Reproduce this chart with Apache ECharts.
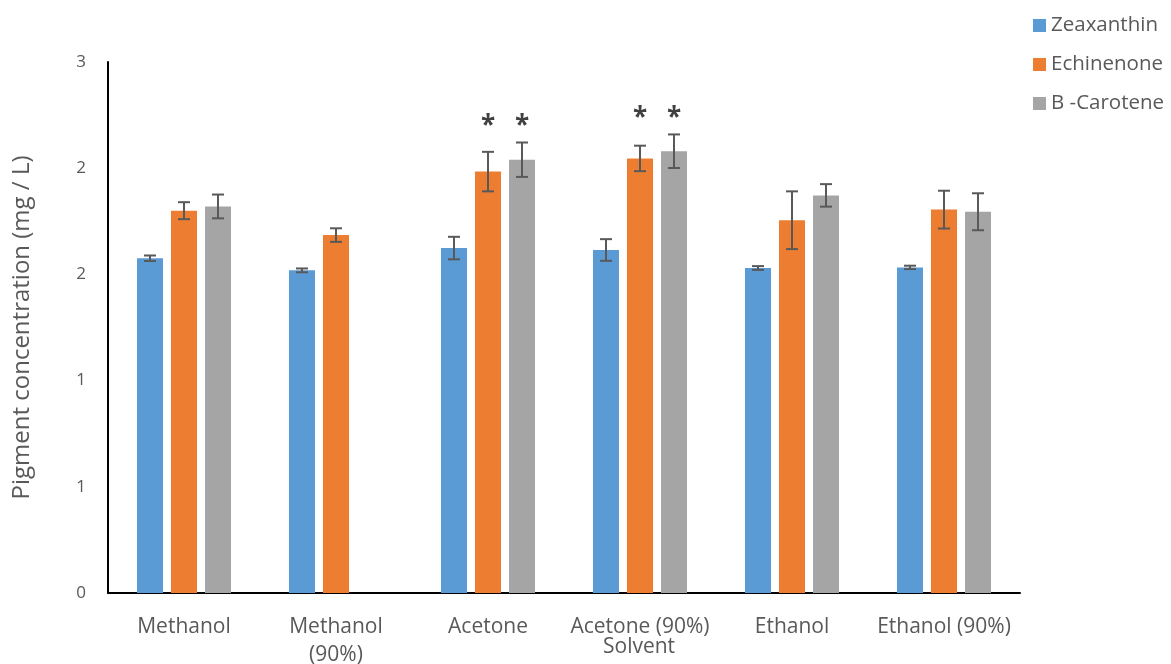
<!DOCTYPE html>
<html>
<head>
<meta charset="utf-8">
<script src="https://cdn.jsdelivr.net/npm/echarts@6/dist/echarts.min.js"></script>
<style>
  html, body { margin: 0; padding: 0; background: #fff; }
  #chart { width: 1171px; height: 664px; }
</style>
</head>
<body>
<div id="chart"></div>
<script>
// Solvents tested
const solvents = ['Methanol', 'Methanol\n(90%)', 'Acetone', 'Acetone (90%)', 'Ethanol', 'Ethanol (90%)'];

// Mean pigment concentration (mg / L)
const zeaxanthin = [1.576, 1.519, 1.624, 1.615, 1.530, 1.533];
const echinenone = [1.800, 1.685, 1.984, 2.046, 1.755, 1.805];
const bCarotene  = [1.820, null,  2.040, 2.080, 1.872, 1.795];

// Standard deviations
const zeaxanthinErr = [0.013, 0.009, 0.053, 0.051, 0.009, 0.008];
const echinenoneErr = [0.040, 0.032, 0.093, 0.060, 0.136, 0.089];
const bCaroteneErr  = [0.056, null,  0.081, 0.079, 0.053, 0.087];

// Significant differences (*)
const echinenoneSig = [false, false, true, true, false, false];
const bCaroteneSig  = [false, false, true, true, false, false];

// Y axis ticks
const yMin = 0, yMax = 2.5, yStep = 0.5;

const BAR_W = 26;
const BAR_GAP = 8;
const TEXT = '#595959';
const FONT = '"Open Sans", "DejaVu Sans", sans-serif';

const seriesDefs = [
  { name: 'Zeaxanthin', values: zeaxanthin, errors: zeaxanthinErr, sig: null, color: '#5B9BD5' },
  { name: 'Echinenone', values: echinenone, errors: echinenoneErr, sig: echinenoneSig, color: '#ED7D31' },
  { name: 'B -Carotene', values: bCarotene, errors: bCaroteneErr, sig: bCaroteneSig, color: '#A5A5A5' }
];

function slotOffset(k) {
  return (k - (seriesDefs.length - 1) / 2) * (BAR_W + BAR_GAP);
}

// Highest error-bar cap per solvent, used to place the significance marks
const groupTop = solvents.map((_, i) => {
  let m = 0;
  seriesDefs.forEach(s => {
    if (s.values[i] != null) m = Math.max(m, s.values[i] + (s.errors[i] || 0));
  });
  return m;
});

const series = [];

seriesDefs.forEach((s, k) => {
  series.push({
    name: s.name,
    type: 'bar',
    data: s.values,
    barWidth: BAR_W,
    barGap: (BAR_GAP / BAR_W * 100) + '%',
    itemStyle: { color: s.color },
    emphasis: { disabled: true },
    z: 2
  });
});

seriesDefs.forEach((s, k) => {
  series.push({
    type: 'custom',
    silent: true,
    z: 5,
    data: s.values.map((v, i) => [i, v, s.errors[i]]),
    encode: { x: 0, y: 1 },
    renderItem: function (params, api) {
      const i = api.value(0);
      const v = api.value(1);
      const e = api.value(2);
      if (v == null || isNaN(v) || e == null || isNaN(e)) return null;
      const dx = slotOffset(k);
      const top = api.coord([i, v + e]);
      const bot = api.coord([i, v - e]);
      const x = top[0] + dx;
      const cap = 6;
      const style = { stroke: '#595959', lineWidth: 2 };
      return {
        type: 'group',
        children: [
          { type: 'line', shape: { x1: x, y1: top[1], x2: x, y2: bot[1] }, style: style },
          { type: 'line', shape: { x1: x - cap, y1: top[1], x2: x + cap, y2: top[1] }, style: style },
          { type: 'line', shape: { x1: x - cap, y1: bot[1], x2: x + cap, y2: bot[1] }, style: style }
        ]
      };
    }
  });
});

seriesDefs.forEach((s, k) => {
  if (!s.sig) return;
  series.push({
    type: 'custom',
    silent: true,
    z: 6,
    data: s.sig.map((flag, i) => [i, groupTop[i], flag ? 1 : 0]),
    encode: { x: 0, y: 1 },
    renderItem: function (params, api) {
      if (!api.value(2)) return null;
      const i = api.value(0);
      const p = api.coord([i, api.value(1)]);
      return {
        type: 'text',
        style: {
          x: p[0] + slotOffset(k),
          y: p[1] - 3,
          text: '*',
          fill: '#404040',
          font: 'bold 26px ' + FONT,
          align: 'center',
          verticalAlign: 'bottom'
        }
      };
    }
  });
});

const chart = echarts.init(document.getElementById('chart'), null, { renderer: 'canvas' });

chart.setOption({
  animation: false,
  backgroundColor: '#fff',
  textStyle: { fontFamily: FONT },
  grid: { left: 108, right: 151, top: 62, bottom: 71, containLabel: false, outerBoundsMode: 'none' },
  legend: {
    data: seriesDefs.map(s => s.name),
    orient: 'vertical',
    left: 1028,
    top: 10,
    icon: 'rect',
    itemWidth: 13,
    itemHeight: 13,
    itemGap: 18,
    textStyle: { color: TEXT, fontSize: 20.5, fontFamily: FONT, lineHeight: 20 },
    selectedMode: false
  },
  xAxis: {
    type: 'category',
    data: solvents,
    axisLine: { lineStyle: { color: '#000', width: 2 } },
    axisTick: { show: false },
    axisLabel: { color: TEXT, fontSize: 21, fontFamily: FONT, margin: 20, lineHeight: 28, interval: 0 },
    splitLine: { show: false }
  },
  yAxis: {
    type: 'value',
    min: yMin,
    max: yMax,
    interval: yStep,
    name: 'Pigment concentration (mg / L)',
    nameLocation: 'middle',
    nameGap: 74,
    nameTextStyle: { color: TEXT, fontSize: 24, fontFamily: FONT },
    axisLine: { show: true, lineStyle: { color: '#000', width: 2 } },
    axisTick: { show: false },
    axisLabel: {
      color: TEXT, fontSize: 17, fontFamily: FONT, margin: 22,
      formatter: v => String(Math.round(v))
    },
    splitLine: { show: false }
  },
  graphic: [{
    type: 'text',
    left: 603,
    top: 637,
    style: { text: 'Solvent', fill: TEXT, font: '21px ' + FONT }
  }],
  series: series
});
</script>
</body>
</html>
